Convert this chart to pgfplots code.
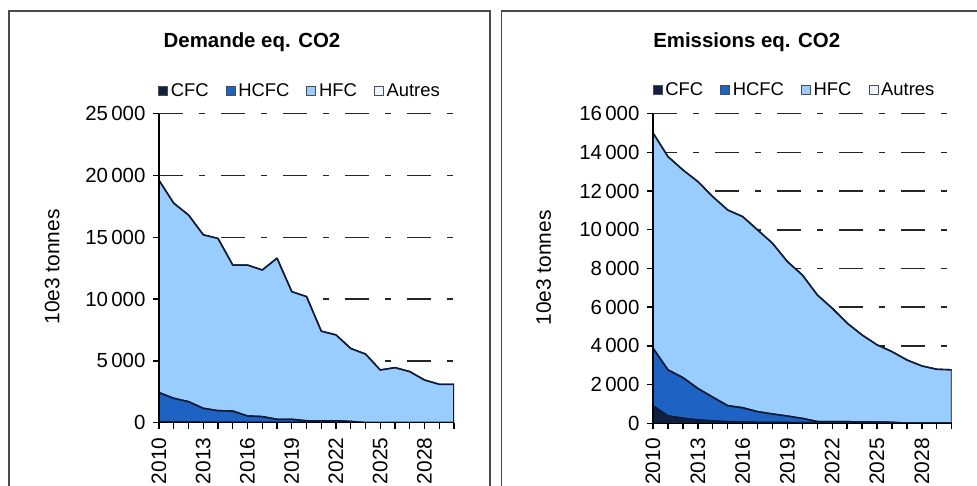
\documentclass[border=0pt]{standalone}
\usepackage{pgfplots}
\usepackage{pgfplotstable}
\pgfplotsset{compat=1.18}
\usepackage{fontspec}
\setmainfont{Liberation Sans}

\definecolor{cfc}{HTML}{10203F}
\definecolor{hcfc}{HTML}{1E62C4}
\definecolor{hfc}{HTML}{99CCFF}
\definecolor{autres}{HTML}{EAF6FF}
\definecolor{edge}{HTML}{0D1B36}
\definecolor{framegray}{HTML}{4A4A4A}

% Stacked layers (each column is the thickness of its layer)
\pgfplotstableread{
year cfc hcfc hfc autres
2010 60 2370 17170 0
2011 50 1920 15780 0
2012 40 1660 15100 0
2013 30 1130 14040 0
2014 30 940 13930 0
2015 25 915 11810 0
2016 20 520 12210 0
2017 20 470 11860 0
2018 20 250 13030 0
2019 20 250 10330 0
2020 20 130 10050 0
2021 20 130 7250 0
2022 15 135 6950 0
2023 10 90 5900 0
2024 0 0 5550 0
2025 0 0 4260 0
2026 0 0 4450 0
2027 0 0 4130 0
2028 0 0 3450 0
2029 0 0 3100 0
2030 0 0 3100 0
}\demande

\pgfplotstableread{
year cfc hcfc hfc autres
2010 900 2980 11120 0
2011 380 2380 11020 0
2012 260 2100 10730 0
2013 170 1630 10690 0
2014 120 1230 10360 0
2015 80 830 10110 0
2016 60 740 9880 0
2017 50 550 9390 0
2018 40 440 8820 0
2019 40 330 7980 0
2020 30 220 7410 0
2021 30 60 6540 0
2022 30 50 5860 0
2023 30 50 5090 0
2024 30 40 4490 0
2025 30 30 3990 0
2026 20 30 3650 0
2027 0 0 3270 0
2028 0 0 2960 0
2029 0 0 2790 0
2030 0 0 2760 0
}\emissions

\pgfplotsset{
  panel/.style={
    scale only axis,
    axis line style={draw=none},
    xmin=2010, xmax=2030, ymin=0,
    stack plots=y,
    xtick={2010,...,2030},
    xticklabels={2010,,,2013,,,2016,,,2019,,,2022,,,2025,,,2028,,},
    xtick pos=left, ytick pos=left,
    tick align=outside,
    hide obscured x ticks=false, hide obscured y ticks=false,
    major tick length=6bp,
    tick style={line width=1.4bp, black},
    ymajorgrids,
    major grid style={line width=1.5bp, black!85, dash pattern=on 24bp off 16bp on 6bp off 16bp},
    /pgf/number format/assume math mode=true,
    /pgf/number format/1000 sep={\,},
    scaled y ticks=false,
    yticklabel style={font=\fontsize{20.5}{20.5}\selectfont, xshift=-4bp},
    xticklabel style={font=\fontsize{21}{21}\selectfont, yshift=-5.5bp, rotate=90, anchor=east},
    ylabel={10e3 tonnes},
    ylabel style={font=\fontsize{21}{21}\selectfont, anchor=center},
    legend columns=4,
    legend style={draw=none, fill=none, font=\fontsize{18.5}{18.5}\selectfont,
      anchor=center, inner sep=0pt,
      /tikz/every odd column/.append style={column sep=1bp},
      /tikz/every even column/.append style={column sep=15bp}},
    legend image code/.code={\draw[#1, draw=black!70, line width=0.6bp] (0bp,-4.5bp) rectangle (9bp,4.5bp);},
    every axis plot/.append style={draw=edge, line width=1.6bp, line join=round},
    % left and bottom axis lines, with a tick below the axis for every year
    after end axis/.code={
      \draw[line width=1.5bp, black] (rel axis cs:0,1) -- (rel axis cs:0,0) -- (rel axis cs:1,0);
      \foreach \yr in {0,...,20}{
        \draw[line width=1.4bp, black] (rel axis cs:\yr/20,0) -- ++(0bp,-6bp);
      }
    },
  }
}

\begin{document}
\begin{tikzpicture}
  \useasboundingbox (0bp,0bp) rectangle (977bp,486bp);
  \clip (0bp,0bp) rectangle (977bp,486bp);
  \fill[white] (0bp,0bp) rectangle (977bp,486bp);
  % panel frames
  \draw[framegray, line width=1.4bp] (9bp,-20bp) rectangle (490bp,475bp);
  \draw[framegray, line width=1.4bp] (501.7bp,-20bp) rectangle (1000bp,475bp);

  % Demande
  \begin{axis}[panel,
      at={(159bp,63.3bp)}, anchor=south west,
      width=295bp, height=309bp,
      ymax=25000, ytick={0,5000,...,25000},
      ylabel style={at={(axis description cs:-0.362,0.504)}},
      legend style={at={(0.478,1.073)}}]
    \addplot[fill=cfc] table[x=year, y=cfc]{\demande} \closedcycle;
    \addplot[fill=hcfc] table[x=year, y=hcfc]{\demande} \closedcycle;
    \addplot[fill=hfc] table[x=year, y=hfc]{\demande} \closedcycle;
    \addplot[fill=autres] table[x=year, y=autres]{\demande} \closedcycle;
    \legend{CFC, HCFC, HFC, Autres}
  \end{axis}
  \node[font=\bfseries\fontsize{20.5}{20.5}\selectfont] at (252bp,444bp) {Demande eq. CO2};

  % Emissions
  \begin{axis}[panel,
      at={(653bp,62.7bp)}, anchor=south west,
      width=298.7bp, height=309.6bp,
      ymax=16000, ytick={0,2000,...,16000},
      ylabel style={at={(axis description cs:-0.366,0.502)}},
      legend style={at={(0.474,1.077)}}]
    \addplot[fill=cfc] table[x=year, y=cfc]{\emissions} \closedcycle;
    \addplot[fill=hcfc] table[x=year, y=hcfc]{\emissions} \closedcycle;
    \addplot[fill=hfc] table[x=year, y=hfc]{\emissions} \closedcycle;
    \addplot[fill=autres] table[x=year, y=autres]{\emissions} \closedcycle;
    \legend{CFC, HCFC, HFC, Autres}
  \end{axis}
  \node[font=\bfseries\fontsize{20.5}{20.5}\selectfont] at (746.7bp,444bp) {Emissions eq. CO2};
\end{tikzpicture}
\end{document}
